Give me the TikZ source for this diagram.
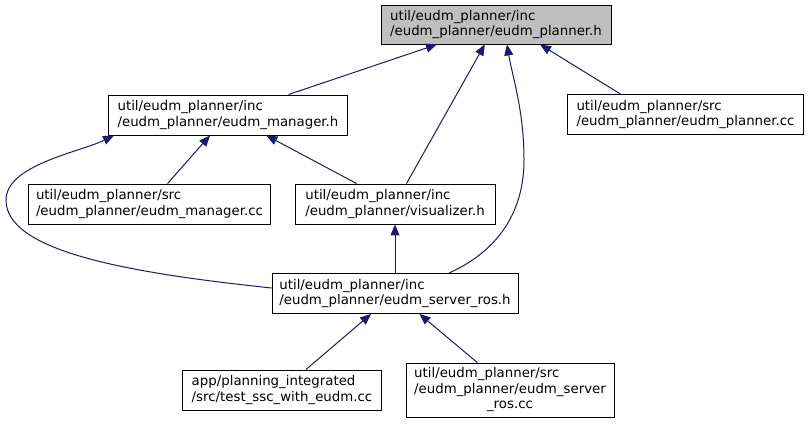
\documentclass[tikz,border=0pt]{standalone}
\usepackage{fontspec}
\setmainfont{DejaVu Sans}
\usetikzlibrary{arrows.meta,positioning}
\definecolor{Edge}{HTML}{191970}
\definecolor{Root}{HTML}{BFBFBF}
\tikzset{
  file/.style={rectangle, draw=black, fill=white, line width=0.9pt,
    font=\fontsize{13.33}{15.5}\selectfont, align=left, inner sep=2pt,
    minimum height=40pt},
  root/.style={file, fill=Root, minimum height=39pt},
  incl/.style={-{Triangle[length=11pt,width=9pt]}, draw=Edge, line width=1pt}
}
\begin{document}
\begin{tikzpicture}[x=1pt, y=-1pt, on grid]
  \useasboundingbox (0,0) rectangle (808,424);
  \node[root, minimum width=230pt] (planner) at (496,24.5) {util/eudm\_planner/inc\\/eudm\_planner/eudm\_planner.h};
  \node[file, minimum width=239pt, below left=90.5pt and 268pt of planner] (manager) {util/eudm\_planner/inc\\/eudm\_planner/eudm\_manager.h};
  \node[file, minimum width=236pt, below right=90pt and 189.5pt of planner] (plannercc) {util/eudm\_planner/src\\/eudm\_planner/eudm\_planner.cc};
  \node[file, minimum width=242pt, below left=89pt and 78.5pt of manager] (managercc) {util/eudm\_planner/src\\/eudm\_planner/eudm\_manager.cc};
  \node[file, minimum width=200pt, below right=89pt and 167pt of manager] (visualizer) {util/eudm\_planner/inc\\/eudm\_planner/visualizer.h};
  \node[file, minimum width=246pt, below=89.5pt of visualizer] (server) {util/eudm\_planner/inc\\/eudm\_planner/eudm\_server\_ros.h};
  \node[file, minimum width=199pt, below left=96.5pt and 113pt of server] (testssc) {app/planning\_integrated\\/src/test\_ssc\_with\_eudm.cc};
  \node[file, minimum width=208pt, minimum height=54pt, below right=96.5pt and 115pt of server] (servercc) {\begin{tabular}{@{}l@{}}util/eudm\_planner/src\\/eudm\_planner/eudm\_server\\\multicolumn{1}{@{}c@{}}{\_ros.cc}\end{tabular}};
  % edges point to the included header
  \draw[incl] (manager) -- (planner);
  \draw[incl] (visualizer) -- (planner);
  \draw[incl] ([xshift=54pt]server.north) .. controls (500,250) and (524,210) .. (524,160)
    .. controls (524,110) and (512,75) .. ([xshift=11pt]planner.south);
  \draw[incl] ([xshift=-65pt]plannercc.north) -- ([xshift=44pt]planner.south);
  \draw[incl] (managercc) -- (manager);
  \draw[incl] (visualizer) -- (manager);
  \draw[incl] ([yshift=5.5pt]server.west) .. controls (120,272) and (6,250) .. (6,200)
    .. controls (6,165) and (80,152) .. ([xshift=6pt]manager.south west);
  \draw[incl] (server) -- (visualizer);
  \draw[incl] (testssc) -- (server);
  \draw[incl] (servercc) -- (server);
\end{tikzpicture}
\end{document}
